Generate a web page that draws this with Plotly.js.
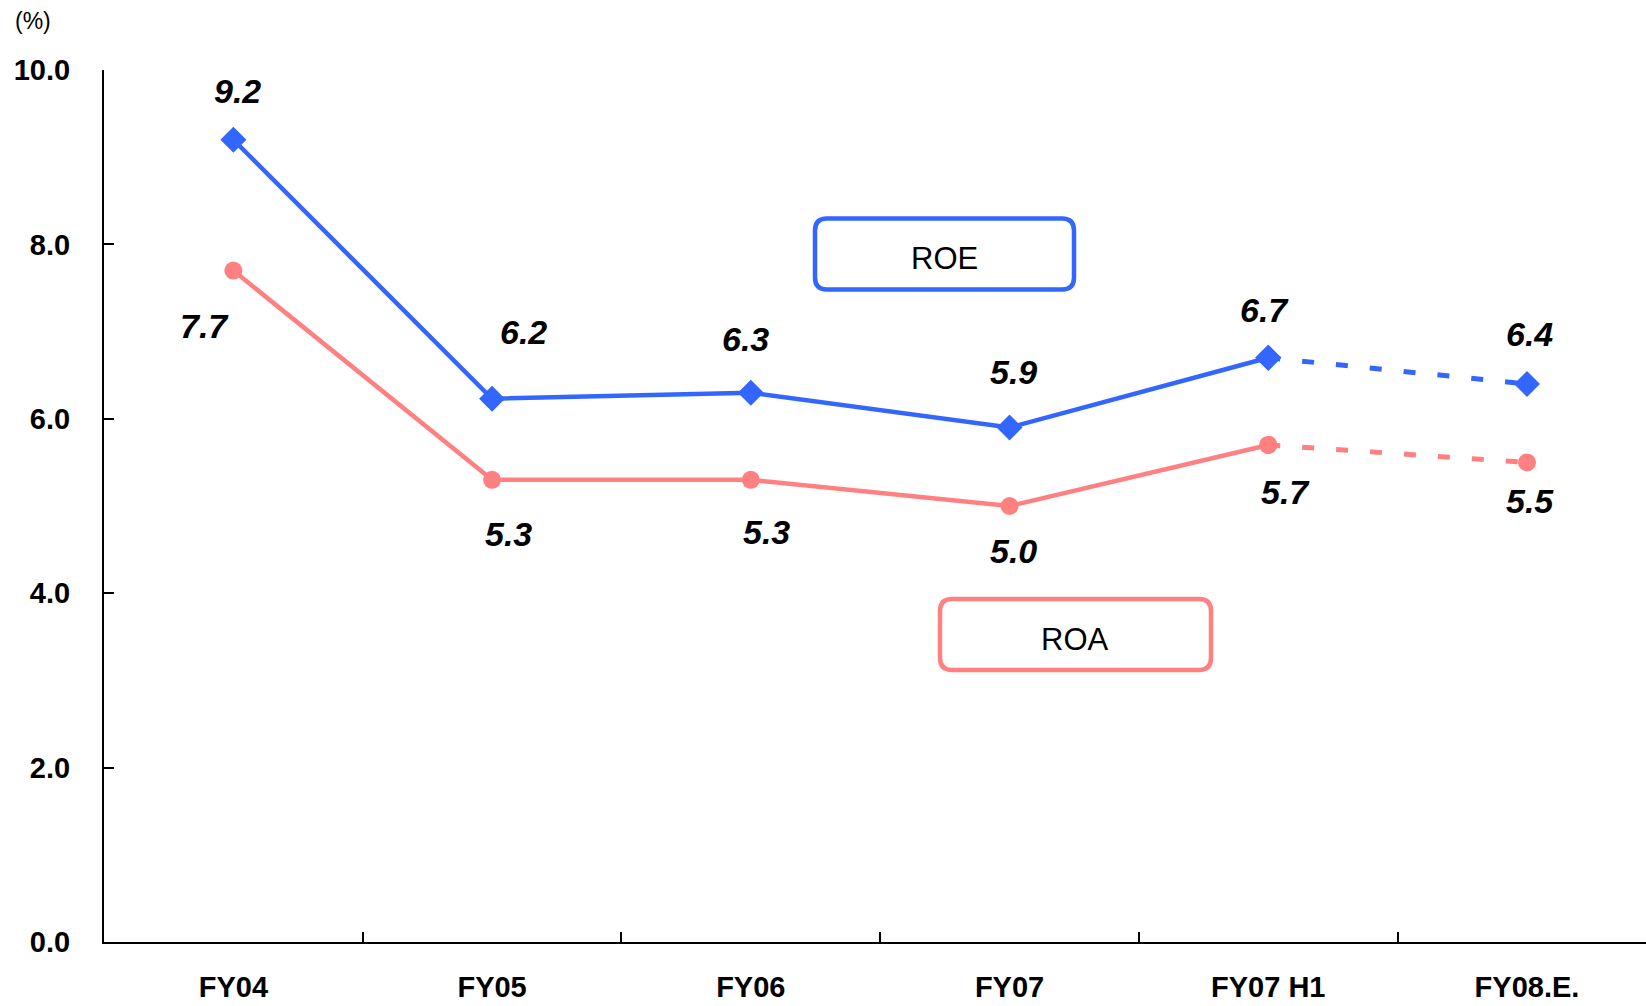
<!DOCTYPE html>
<html>
<head>
<meta charset="utf-8">
<script src="https://cdn.plot.ly/plotly-3.0.1.min.js"></script>
<style>
html,body{margin:0;padding:0;background:#fff;}
#chart{width:1646px;height:1006px;}
</style>
</head>
<body>
<div id="chart"></div>
<script>
// ---- data ----
const categories = ["FY04", "FY05", "FY06", "FY07", "FY07 H1", "FY08.E."];
const roeValues = [9.2, 6.23, 6.3, 5.9, 6.7, 6.4];
const roaValues = [7.7, 5.3, 5.3, 5.0, 5.7, 5.5];
const yTickValues = [0, 2, 4, 6, 8, 10];
const seriesNames = ["ROE", "ROA"];
const forecastStart = 4; // index where dashed (estimate) segment begins

// ---- style ----
const blue = "#3366FF";
const pink = "#FF8080";
const labelFont = {family: "Liberation Sans, Arial, sans-serif", size: 34, color: "#000"};
const roeLabelShift = [[4, 49], [31, 67], [-5, 54], [4, 56], [-4, 48], [3, 50]];
const roaLabelShift = [[-29, -55], [16, -54], [16, -52], [4, -45], [17, -47], [3, -39]];

function mk(symbol, color) {
  return {color: color, symbol: symbol, size: symbol === "diamond" ? 20 : 18};
}
function solid(vals, color, symbol, name) {
  return {
    type: "scatter", mode: "lines+markers", name: name,
    x: categories.slice(0, forecastStart + 1),
    y: vals.slice(0, forecastStart + 1),
    line: {color: color, width: 4.5},
    marker: mk(symbol, color),
    hoverinfo: "x+y", showlegend: false
  };
}
function dashed(vals, color, symbol, name) {
  return {
    type: "scatter", mode: "lines+markers", name: name + " (E)",
    x: categories.slice(forecastStart),
    y: vals.slice(forecastStart),
    line: {color: color, width: 5, dash: "12px,22px"},
    marker: mk(symbol, color),
    hoverinfo: "x+y", showlegend: false
  };
}

const traces = [
  dashed(roeValues, blue, "diamond", seriesNames[0]),
  dashed(roaValues, pink, "circle", seriesNames[1]),
  solid(roeValues, blue, "diamond", seriesNames[0]),
  solid(roaValues, pink, "circle", seriesNames[1])
];

const annotations = [];
function addLabels(vals, shifts) {
  vals.forEach((v, i) => {
    annotations.push({
      x: categories[i], y: v, xref: "x", yref: "y",
      text: "<b><i>" + v.toFixed(1) + "</i></b>",
      showarrow: false, font: labelFont,
      xshift: shifts[i][0], yshift: shifts[i][1],
      xanchor: "center", yanchor: "middle"
    });
  });
}
addLabels(roeValues, roeLabelShift);
addLabels(roaValues, roaLabelShift);

// plot area in pixels
const L = 104, R = 1646, T = 70, B = 942;
const px = x => (x - L) / (R - L);
const py = y => (B - y) / (B - T);

function roundedBox(cx, cy, w, h, r, color) {
  const hw = w / 2, hh = h / 2;
  const path = `M ${-hw + r},${-hh} L ${hw - r},${-hh} Q ${hw},${-hh} ${hw},${-hh + r} ` +
    `L ${hw},${hh - r} Q ${hw},${hh} ${hw - r},${hh} L ${-hw + r},${hh} ` +
    `Q ${-hw},${hh} ${-hw},${hh - r} L ${-hw},${-hh + r} Q ${-hw},${-hh} ${-hw + r},${-hh} Z`;
  return {
    type: "path", xref: "paper", yref: "paper",
    xsizemode: "pixel", ysizemode: "pixel",
    xanchor: px(cx), yanchor: py(cy),
    path: path, line: {color: color, width: 4.5}, fillcolor: "rgba(0,0,0,0)"
  };
}
const shapes = [
  roundedBox(944.5, 254, 259, 71, 12, blue),
  roundedBox(1075.5, 634.5, 271, 71, 12, pink)
];
const boxFont = {family: "Liberation Sans, Arial, sans-serif", size: 31, color: "#000"};
annotations.push({
  xref: "paper", yref: "paper", x: px(945), y: py(258),
  text: seriesNames[0], showarrow: false, font: boxFont,
  xanchor: "center", yanchor: "middle"
});
annotations.push({
  xref: "paper", yref: "paper", x: px(1075), y: py(639),
  text: seriesNames[1], showarrow: false, font: boxFont,
  xanchor: "center", yanchor: "middle"
});
annotations.push({
  xref: "paper", yref: "paper", x: px(13), y: py(21),
  text: "(%)", showarrow: false,
  font: {family: "Liberation Sans, Arial, sans-serif", size: 23, color: "#000"},
  xanchor: "left", yanchor: "middle"
});

const tickFont = {family: "Liberation Sans, Arial, sans-serif", size: 29, color: "#000", weight: "bold"};

const layout = {
  width: 1646, height: 1006,
  margin: {l: L, r: 1646 - R, t: T, b: 1006 - B, pad: 0},
  paper_bgcolor: "#fff", plot_bgcolor: "#fff",
  showlegend: false,
  xaxis: {
    type: "category", categoryorder: "array", categoryarray: categories,
    range: [-0.5, 5.46], showgrid: false, zeroline: false,
    showline: true, linecolor: "#000", linewidth: 2,
    ticks: "inside", tickson: "boundaries", ticklen: 10, tickwidth: 2, tickcolor: "#000",
    tickfont: tickFont, ticklabelstandoff: 18
  },
  yaxis: {
    range: [0, 10], tickvals: yTickValues, tickformat: ".1f",
    showgrid: false, zeroline: false,
    showline: true, linecolor: "#000", linewidth: 2,
    ticks: "inside", ticklen: 10, tickwidth: 2, tickcolor: "#000",
    tickfont: tickFont, ticklabelstandoff: 26
  },
  shapes: shapes,
  annotations: annotations
};

Plotly.newPlot("chart", traces, layout, {displayModeBar: false, staticPlot: true});
</script>
</body>
</html>
